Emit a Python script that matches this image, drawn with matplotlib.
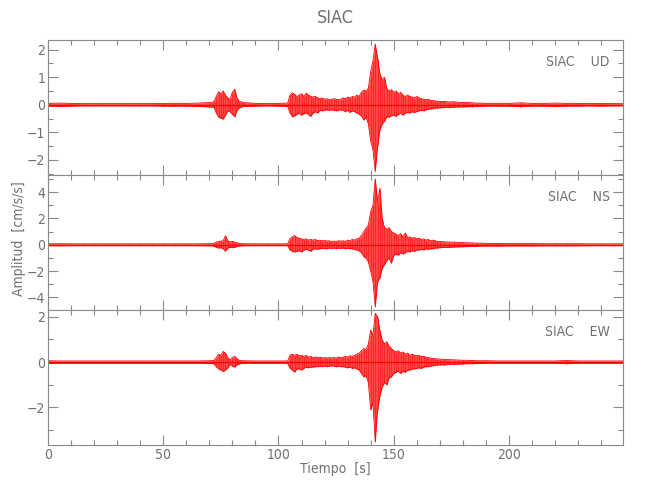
import matplotlib
matplotlib.use("Agg")
import matplotlib.pyplot as plt
from matplotlib.ticker import MultipleLocator

plt.rcParams['font.family'] = ['DejaVu Sans']
plt.rcParams['font.stretch'] = 'condensed'

# sample times (s) of the envelope readings
times = (list(range(0, 75, 5)) + list(range(71, 86)) + [90, 95, 100, 104]
         + list(range(105, 171)) + list(range(172, 191, 2)) + list(range(195, 251, 5)))

# UD component: upper / lower envelope (cm/s/s)
ud_up = [0.05, 0.06, 0.05, 0.04, 0.04, 0.04, 0.04, 0.04, 0.04, 0.04, 0.05, 0.05, 0.05, 0.06, 0.08,
         0.08, 0.12, 0.30, 0.47, 0.40, 0.50, 0.35, 0.25, 0.20, 0.45, 0.56, 0.25, 0.12, 0.10, 0.08,
         0.05, 0.04, 0.05, 0.06,
         0.35, 0.43, 0.38, 0.30, 0.35, 0.40, 0.30, 0.42, 0.36, 0.30, 0.28, 0.30, 0.25, 0.22, 0.25,
         0.20, 0.22, 0.18, 0.20, 0.22, 0.20, 0.18, 0.20, 0.25, 0.22, 0.28, 0.25, 0.30, 0.28, 0.35,
         0.30, 0.45, 0.53, 0.50, 0.60, 1.20, 1.60, 2.20, 1.70, 1.13, 0.90, 1.00, 0.59, 0.50, 0.55,
         0.45, 0.50, 0.40, 0.45, 0.35, 0.30, 0.35, 0.30, 0.28, 0.25, 0.30, 0.25, 0.22, 0.20, 0.18,
         0.20, 0.16, 0.15, 0.14, 0.13, 0.12,
         0.12, 0.10, 0.11, 0.09, 0.08, 0.08, 0.07, 0.06, 0.06, 0.05,
         0.05, 0.05, 0.07, 0.05, 0.05, 0.06, 0.05, 0.05, 0.04, 0.05, 0.04, 0.04]
ud_lo = [-0.05, -0.06, -0.05, -0.04, -0.04, -0.04, -0.04, -0.04, -0.04, -0.04, -0.05, -0.05, -0.05, -0.06, -0.08,
         -0.08, -0.10, -0.30, -0.45, -0.49, -0.52, -0.38, -0.22, -0.25, -0.35, -0.43, -0.20, -0.12, -0.08, -0.06,
         -0.05, -0.04, -0.05, -0.06,
         -0.30, -0.43, -0.40, -0.35, -0.30, -0.38, -0.32, -0.30, -0.35, -0.42, -0.30, -0.25, -0.30, -0.20, -0.22,
         -0.20, -0.18, -0.20, -0.18, -0.20, -0.22, -0.20, -0.18, -0.20, -0.25, -0.20, -0.28, -0.22, -0.25, -0.30,
         -0.35, -0.40, -0.55, -0.45, -0.70, -1.30, -1.64, -2.42, -1.50, -0.91, -0.70, -0.60, -0.43, -0.45, -0.40,
         -0.38, -0.42, -0.35, -0.30, -0.38, -0.30, -0.28, -0.30, -0.25, -0.28, -0.25, -0.22, -0.20, -0.22, -0.18,
         -0.16, -0.15, -0.14, -0.12, -0.12, -0.11,
         -0.10, -0.10, -0.09, -0.08, -0.08, -0.07, -0.07, -0.06, -0.06, -0.05,
         -0.05, -0.05, -0.07, -0.05, -0.05, -0.06, -0.05, -0.05, -0.04, -0.05, -0.04, -0.04]

# NS component
ns_up = [0.07, 0.08, 0.07, 0.07, 0.07, 0.07, 0.07, 0.07, 0.07, 0.07, 0.07, 0.07, 0.07, 0.07, 0.08,
         0.08, 0.10, 0.20, 0.25, 0.28, 0.30, 0.68, 0.30, 0.22, 0.25, 0.20, 0.15, 0.10, 0.08, 0.08,
         0.07, 0.07, 0.07, 0.07,
         0.45, 0.60, 0.70, 0.55, 0.50, 0.45, 0.40, 0.45, 0.35, 0.40, 0.35, 0.40, 0.30, 0.35, 0.30,
         0.32, 0.28, 0.30, 0.25, 0.28, 0.25, 0.30, 0.28, 0.30, 0.25, 0.35, 0.30, 0.40, 0.35, 0.45,
         0.50, 0.70, 1.00, 1.25, 1.50, 2.50, 3.00, 5.00, 3.27, 4.28, 2.00, 1.30, 1.20, 1.30, 1.00,
         0.90, 0.80, 0.70, 0.85, 0.60, 0.90, 0.55, 0.60, 0.50, 0.55, 0.45, 0.50, 0.40, 0.45, 0.35,
         0.40, 0.30, 0.35, 0.30, 0.25, 0.25,
         0.22, 0.20, 0.20, 0.18, 0.16, 0.15, 0.14, 0.12, 0.12, 0.10,
         0.10, 0.09, 0.09, 0.09, 0.08, 0.08, 0.08, 0.08, 0.07, 0.07, 0.07, 0.07]
ns_lo = [-0.07, -0.08, -0.07, -0.07, -0.07, -0.07, -0.07, -0.07, -0.07, -0.07, -0.07, -0.07, -0.07, -0.07, -0.08,
         -0.08, -0.10, -0.20, -0.25, -0.22, -0.30, -0.48, -0.25, -0.20, -0.22, -0.20, -0.12, -0.10, -0.08, -0.07,
         -0.07, -0.07, -0.07, -0.07,
         -0.40, -0.50, -0.55, -0.50, -0.45, -0.55, -0.40, -0.35, -0.40, -0.50, -0.35, -0.30, -0.35, -0.30, -0.28,
         -0.30, -0.30, -0.25, -0.28, -0.25, -0.30, -0.25, -0.28, -0.25, -0.30, -0.28, -0.30, -0.30, -0.35, -0.40,
         -0.45, -0.60, -0.90, -1.00, -1.30, -2.00, -2.80, -4.70, -2.80, -2.50, -1.80, -1.50, -1.20, -1.00, -1.40,
         -0.80, -0.70, -0.80, -0.60, -0.70, -0.60, -0.50, -0.55, -0.45, -0.50, -0.40, -0.40, -0.35, -0.40, -0.30,
         -0.35, -0.30, -0.30, -0.25, -0.25, -0.22,
         -0.20, -0.20, -0.18, -0.16, -0.15, -0.14, -0.12, -0.12, -0.10, -0.10,
         -0.10, -0.09, -0.09, -0.09, -0.08, -0.08, -0.08, -0.08, -0.07, -0.07, -0.07, -0.07]

# EW component
ew_up = [0.06, 0.05, 0.05, 0.05, 0.05, 0.05, 0.05, 0.05, 0.05, 0.05, 0.05, 0.05, 0.05, 0.05, 0.06,
         0.06, 0.08, 0.20, 0.35, 0.30, 0.47, 0.40, 0.20, 0.10, 0.20, 0.25, 0.15, 0.08, 0.06, 0.06,
         0.05, 0.05, 0.05, 0.05,
         0.30, 0.35, 0.30, 0.35, 0.28, 0.30, 0.25, 0.30, 0.22, 0.25, 0.20, 0.23, 0.20, 0.22, 0.18,
         0.20, 0.18, 0.20, 0.18, 0.20, 0.18, 0.22, 0.20, 0.22, 0.25, 0.22, 0.28, 0.25, 0.30, 0.35,
         0.40, 0.50, 0.60, 0.55, 0.80, 1.41, 1.20, 2.15, 2.00, 1.40, 0.97, 0.80, 0.90, 0.70, 0.60,
         0.50, 0.45, 0.50, 0.40, 0.45, 0.35, 0.40, 0.30, 0.35, 0.30, 0.28, 0.30, 0.25, 0.25, 0.22,
         0.20, 0.18, 0.16, 0.15, 0.14, 0.13,
         0.12, 0.11, 0.10, 0.09, 0.08, 0.08, 0.07, 0.06, 0.06, 0.06,
         0.05, 0.05, 0.05, 0.05, 0.05, 0.05, 0.07, 0.05, 0.05, 0.05, 0.05, 0.05]
ew_lo = [-0.06, -0.05, -0.05, -0.05, -0.05, -0.05, -0.05, -0.05, -0.05, -0.05, -0.05, -0.05, -0.05, -0.05, -0.06,
         -0.06, -0.08, -0.20, -0.30, -0.35, -0.41, -0.35, -0.25, -0.10, -0.18, -0.22, -0.12, -0.08, -0.06, -0.05,
         -0.05, -0.05, -0.05, -0.05,
         -0.28, -0.35, -0.44, -0.30, -0.30, -0.35, -0.28, -0.22, -0.25, -0.22, -0.22, -0.20, -0.20, -0.18, -0.20,
         -0.18, -0.20, -0.18, -0.16, -0.18, -0.20, -0.18, -0.20, -0.20, -0.22, -0.25, -0.22, -0.28, -0.25, -0.30,
         -0.35, -0.50, -0.65, -0.60, -0.90, -2.10, -1.80, -3.52, -2.10, -1.50, -1.10, -0.90, -1.00, -0.70, -0.65,
         -0.50, -0.45, -0.40, -0.50, -0.40, -0.45, -0.35, -0.35, -0.30, -0.30, -0.28, -0.25, -0.28, -0.22, -0.20,
         -0.20, -0.18, -0.16, -0.15, -0.13, -0.12,
         -0.12, -0.10, -0.10, -0.09, -0.08, -0.07, -0.07, -0.06, -0.06, -0.05,
         -0.05, -0.05, -0.05, -0.05, -0.05, -0.05, -0.07, -0.05, -0.05, -0.05, -0.05, -0.05]

components = ["UD", "NS", "EW"]
uppers = [ud_up, ns_up, ew_up]
lowers = [ud_lo, ns_lo, ew_lo]
ylims = [(-2.55, 2.35), (-4.96, 5.3), (-3.66, 2.3)]
ymajor = [1, 2, 2]
yminor = [0.5, 1, 1]

axis_gray = '#8a8a8a'
text_gray = '#707070'

fig = plt.figure(figsize=(6.5, 5), dpi=100)
left, width, h = 48 / 650, 575 / 650, 0.27
bottoms = [0.65, 0.38, 0.11]

for i, comp in enumerate(components):
    ax = fig.add_axes([left, bottoms[i], width, h])
    ax.fill_between(times, lowers[i], uppers[i], color='#ff1a1a', alpha=0.8, lw=0)
    ax.vlines(times, lowers[i], uppers[i], color='red', lw=0.4, alpha=0.8)
    ax.plot(times, uppers[i], color='red', lw=0.6)
    ax.plot(times, lowers[i], color='red', lw=0.6)
    ax.axhline(0, color='red', lw=0.9)
    ax.set_xlim(0, 249.5)
    ax.set_ylim(*ylims[i])
    ax.xaxis.set_major_locator(MultipleLocator(50))
    ax.xaxis.set_minor_locator(MultipleLocator(10))
    ax.yaxis.set_major_locator(MultipleLocator(ymajor[i]))
    ax.yaxis.set_minor_locator(MultipleLocator(yminor[i]))
    ax.tick_params(which='both', direction='in', top=True, right=True,
                   color=axis_gray, labelcolor=text_gray, labelsize=10, width=0.8, pad=2)
    ax.tick_params(which='major', length=7)
    ax.tick_params(which='minor', length=3.5)
    for sp in ax.spines.values():
        sp.set_color(axis_gray)
        sp.set_linewidth(0.8)
    if i < 2:
        ax.tick_params(labelbottom=False)
    ax.text(0.977, 0.837, "SIAC    " + comp, transform=ax.transAxes,
            ha='right', va='center', fontsize=10, color=text_gray)

fig.text(335.5 / 650, 0.964, "SIAC", ha='center', va='center', fontsize=13, color=text_gray)
fig.text(19 / 650, 0.522, "Amplitud  [cm/s/s]", rotation=90, ha='center', va='center',
         fontsize=10, color=text_gray)
fig.text(335.5 / 650, 0.062, "Tiempo  [s]", ha='center', va='center', fontsize=10, color=text_gray)

fig.savefig("out.png", dpi=100)
